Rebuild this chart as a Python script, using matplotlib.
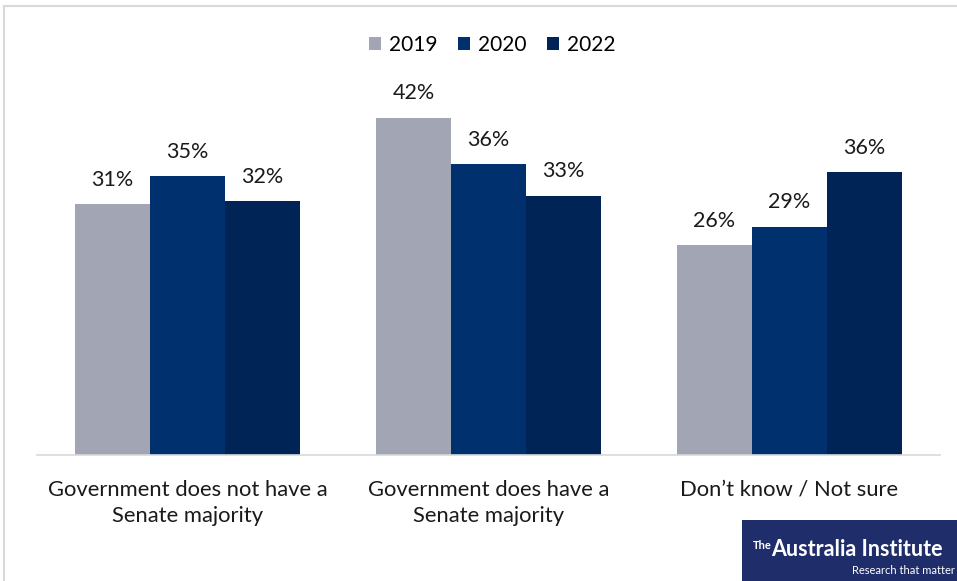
import matplotlib
matplotlib.use("Agg")
import matplotlib.pyplot as plt
import numpy as np
from matplotlib.patches import Rectangle
from matplotlib.lines import Line2D

categories = ["Government does not have a\nSenate majority",
              "Government does have a\nSenate majority",
              "Don’t know / Not sure"]
series_names = ["2019", "2020", "2022"]
# bar heights (%)
values_2019 = [31.2, 42.0, 26.1]
values_2020 = [34.7, 36.2, 28.4]
values_2022 = [31.6, 32.3, 35.2]
# data labels as printed on the chart
labels_2019 = ["31%", "42%", "26%"]
labels_2020 = ["35%", "36%", "29%"]
labels_2022 = ["32%", "33%", "36%"]
colors = ["#A2A5B4", "#00306E", "#002456"]

plt.rcParams['font.family'] = ['Lato', 'DejaVu Sans']

W, H = 957, 581
fig = plt.figure(figsize=(W / 100, H / 100), dpi=100)
fig.patch.set_facecolor("white")

left, right, bottom, top = 37, 940, 455, 53.5
ax = fig.add_axes([left / W, 1 - bottom / H, (right - left) / W, (bottom - top) / H])
ax.set_xlim(-0.5, 2.5)
ax.set_ylim(0, 50)

x = np.arange(len(categories))
bw = 75 / 301
all_vals = [values_2019, values_2020, values_2022]
all_labels = [labels_2019, labels_2020, labels_2022]
for i, (name, vals, labs, c) in enumerate(zip(series_names, all_vals, all_labels, colors)):
    pos = x + (i - 1) * bw
    ax.bar(pos, vals, width=bw, color=c, label=name, edgecolor="none")
    for px, v, lab in zip(pos, vals, labs):
        ax.annotate(lab, (px, v), xytext=(0, 13.5), textcoords="offset points",
                    ha="center", va="baseline", fontsize=15.5, color="#1a1a1a")

for s in ["top", "right", "left"]:
    ax.spines[s].set_visible(False)
ax.spines["bottom"].set_color("#D9D9D9")
ax.spines["bottom"].set_linewidth(1.2)
ax.set_yticks([])
ax.set_xticks(x)
ax.set_xticklabels(categories, fontsize=15.8, color="#1a1a1a", linespacing=1.4)
ax.tick_params(axis="x", length=0, pad=18)

leg = ax.legend(loc="center", bbox_to_anchor=(492 / W, 1 - 45 / H), bbox_transform=fig.transFigure,
                ncol=3, frameon=False, fontsize=15, handlelength=0.6, handleheight=0.6,
                handletextpad=0.35, columnspacing=1.0)

# light border lines
fig.add_artist(Line2D([4 / W, 1], [1 - 6 / H, 1 - 6 / H], color="#D9D9D9", lw=1.5, transform=fig.transFigure))
fig.add_artist(Line2D([4 / W, 4 / W], [0, 1 - 6 / H], color="#D9D9D9", lw=1.5, transform=fig.transFigure))

# logo
fig.add_artist(Rectangle((742 / W, 0), (W - 742) / W, 61 / H, transform=fig.transFigure,
                         facecolor="#1F2E6B", edgecolor="none"))
fig.text(753 / W, 1 - 549 / H, "The", color="white", fontsize=8, ha="left", va="baseline",
         family=["Lato", "DejaVu Sans"], fontweight="bold")
fig.text(771 / W, 1 - 556 / H, "Australia Institute", color="white", fontsize=15.5, ha="left",
         va="baseline", family=["Lato", "DejaVu Sans"], fontweight="bold")
fig.text(955 / W, 1 - 574 / H, "Research that matter", color="white", fontsize=8, ha="right",
         va="baseline", family=["Lato", "DejaVu Sans"])

fig.savefig("out.png", dpi=100, facecolor="white")
